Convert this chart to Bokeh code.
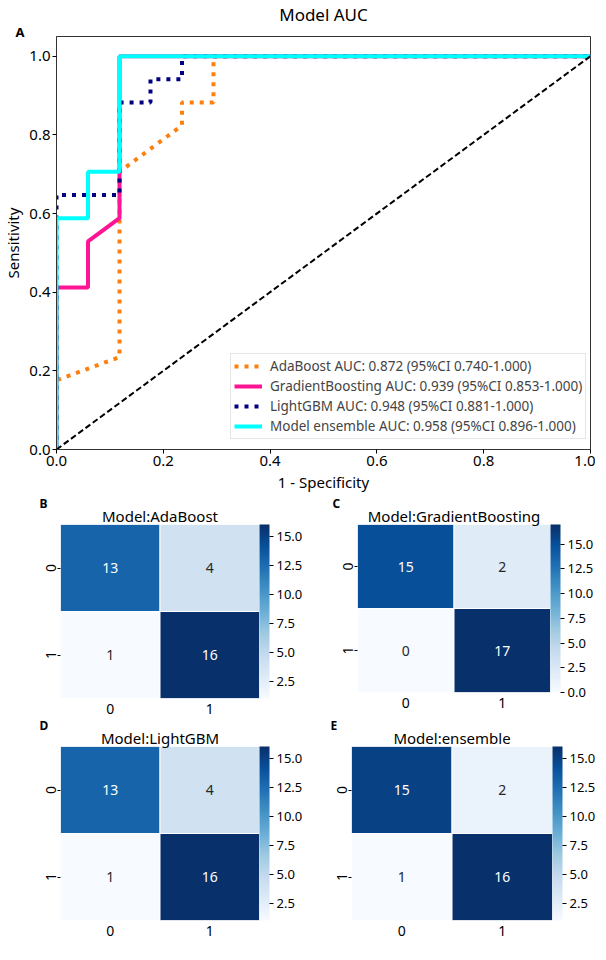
import numpy as np
from bokeh.plotting import figure
from bokeh.models import (Range1d, FixedTicker, Legend, LegendItem, ColorBar, Title,
                          LinearColorMapper, ColumnDataSource, PrintfTickFormatter)
from bokeh.layouts import column, row
from bokeh.embed import file_html
from bokeh.resources import INLINE
from bokeh.core.properties import value

FONT = "Noto Sans"

# ---------------- data ----------------
ada_fpr = [0.0, 0.0, 0.118, 0.118, 0.235, 0.235, 0.294, 0.294, 1.0]
ada_tpr = [0.0, 0.176, 0.235, 0.706, 0.824, 0.882, 0.882, 1.0, 1.0]
gb_fpr = [0.0, 0.0, 0.059, 0.059, 0.118, 0.118, 1.0]
gb_tpr = [0.0, 0.412, 0.412, 0.529, 0.588, 1.0, 1.0]
lgbm_fpr = [0.0, 0.0, 0.118, 0.118, 0.176, 0.176, 0.235, 0.235, 1.0]
lgbm_tpr = [0.0, 0.647, 0.647, 0.882, 0.882, 0.941, 0.941, 1.0, 1.0]
ens_fpr = [0.0, 0.0, 0.059, 0.059, 0.118, 0.118, 1.0]
ens_tpr = [0.0, 0.588, 0.588, 0.706, 0.706, 1.0, 1.0]
chance = [0.0, 1.0]

legend_labels = [
    "AdaBoost AUC: 0.872 (95%CI 0.740-1.000)",
    "GradientBoosting AUC: 0.939 (95%CI 0.853-1.000)",
    "LightGBM AUC: 0.948 (95%CI 0.881-1.000)",
    "Model ensemble AUC: 0.958 (95%CI 0.896-1.000)",
]
roc_ticks = [0.0, 0.2, 0.4, 0.6, 0.8, 1.0]

cm_ada = [[13, 4], [1, 16]]
cm_gb = [[15, 2], [0, 17]]
cm_lgbm = [[13, 4], [1, 16]]
cm_ens = [[15, 2], [1, 16]]
cm_titles = ["Model:AdaBoost", "Model:GradientBoosting", "Model:LightGBM", "Model:ensemble"]
panel_letters = ["B", "C", "D", "E"]
class_labels = ["0", "1"]
cbar_ticks_1_16 = [2.5, 5.0, 7.5, 10.0, 12.5, 15.0]
cbar_ticks_0_17 = [0.0, 2.5, 5.0, 7.5, 10.0, 12.5, 15.0]

# matplotlib "Blues" built from its 9 anchor colours
blues9 = ["#f7fbff", "#deebf7", "#c6dbef", "#9ecae1", "#6baed6",
          "#4292c6", "#2171b5", "#08519c", "#08306b"]


def build_palette(anchors, n=256):
    rgb = np.array([[int(c[i:i + 2], 16) for i in (1, 3, 5)] for c in anchors], float)
    pos = np.linspace(0, 1, len(anchors))
    t = np.linspace(0, 1, n)
    out = []
    for k in range(n):
        r, g, b = (np.interp(t[k], pos, rgb[:, j]) for j in range(3))
        out.append("#%02x%02x%02x" % (int(round(r)), int(round(g)), int(round(b))))
    return out


BLUES = build_palette(blues9)


def make_title(text, size, bold, align, offset, standoff):
    kw = dict(text=text, align=align, offset=offset, text_font=FONT, text_font_size=size,
              text_font_style="bold" if bold else "normal", text_color="black")
    try:
        return Title(standoff=standoff, **kw)
    except Exception:
        return Title(**kw)


# ---------------- ROC figure ----------------
ROC_FW, ROC_FH = 534, 413
p = figure(frame_width=ROC_FW, frame_height=ROC_FH, x_range=Range1d(0, 1), y_range=Range1d(0, 1.05),
           output_backend="svg", toolbar_location=None,
           min_border_left=47, min_border_right=5, min_border_top=10, min_border_bottom=30)
p.add_layout(make_title("A", "13px", True, "left", -41, -9), "above")
p.add_layout(make_title("Model AUC", "17px", False, "center", 0, 0), "above")
p.grid.visible = False
p.outline_line_color = "#333333"
for ax in (p.xaxis[0], p.yaxis[0]):
    ax.ticker = FixedTicker(ticks=roc_ticks)
    ax.formatter = PrintfTickFormatter(format="%.1f")
    ax.major_label_text_font = FONT
    ax.major_label_text_font_size = "15px"
    ax.major_label_text_color = "black"
    ax.axis_label_text_font = FONT
    ax.axis_label_text_font_size = "15px"
    ax.axis_label_text_font_style = "normal"
    ax.axis_label_text_color = "black"
    ax.major_tick_in = 0
    ax.major_tick_out = 4
    ax.minor_tick_line_color = None
    ax.axis_line_color = "#333333"
    ax.major_label_standoff = 2
p.xaxis.axis_label = "1 - Specificity"
p.yaxis.axis_label = "Sensitivity"
p.xaxis.axis_label_standoff = 3
p.yaxis.axis_label_standoff = 3

r_ada = p.line(ada_fpr, ada_tpr, line_color="#ff7f0e", line_width=4, line_dash="4 6")
r_gb = p.line(gb_fpr, gb_tpr, line_color="#ff1493", line_width=4)
r_lgbm = p.line(lgbm_fpr, lgbm_tpr, line_color="#000080", line_width=4, line_dash="4 6")
r_ens = p.line(ens_fpr, ens_tpr, line_color="#00ffff", line_width=4)
p.line(chance, chance, line_color="black", line_width=2, line_dash="6 3")

legend = Legend(items=[LegendItem(label=lab, renderers=[r]) for lab, r in
                       zip(legend_labels, [r_ada, r_gb, r_lgbm, r_ens])],
                location=(174, 10))
legend.label_text_font = FONT
legend.label_text_font_size = "13.5px"
legend.border_line_color = "#cccccc"
legend.glyph_width = 28
legend.glyph_height = 16
legend.label_standoff = 8
legend.spacing = 2
legend.padding = 3
legend.label_height = 16
legend.background_fill_alpha = 0.85
p.add_layout(legend)


# ---------------- confusion matrices ----------------
def heat(cm, title, letter, ticks, fw, fh, bl, bt, letter_off):
    vals = [v for rr in cm for v in rr]
    vmin, vmax = min(vals), max(vals)
    mapper = LinearColorMapper(palette=BLUES, low=vmin, high=vmax)
    xs, ys = [], []
    for i in range(2):
        for j in range(2):
            xs.append(j + 0.5)
            ys.append(i + 0.5)
    mid = (vmin + vmax) / 2
    src = ColumnDataSource(dict(x=xs, y=ys, v=vals, txt=[str(v) for v in vals],
                                tc=["white" if v > mid else "#262626" for v in vals]))
    f = figure(frame_width=fw, frame_height=fh, x_range=Range1d(0, 2), y_range=Range1d(2, 0),
               output_backend="svg", toolbar_location=None,
               min_border_left=bl, min_border_right=5, min_border_top=bt, min_border_bottom=10)
    f.rect("x", "y", 1, 1, source=src, fill_color={"field": "v", "transform": mapper},
           line_color="white", line_width=1)
    f.text("x", "y", text="txt", text_color="tc", source=src, text_align="center",
           text_baseline="middle", text_font=value(FONT), text_font_size=value("14px"))
    f.add_layout(make_title(title, "15px", False, "center", 0, -2), "above")
    f.add_layout(make_title(letter, "12px", True, "left", letter_off, -14), "above")
    f.grid.visible = False
    f.outline_line_color = None
    for ax in (f.xaxis[0], f.yaxis[0]):
        ax.ticker = FixedTicker(ticks=[0.5, 1.5])
        ax.major_label_overrides = {0.5: class_labels[0], 1.5: class_labels[1]}
        ax.axis_line_color = None
        ax.major_tick_in = 0
        ax.major_tick_out = 3
        ax.minor_tick_line_color = None
        ax.major_label_text_font = FONT
        ax.major_label_text_font_size = "14px"
        ax.major_label_text_color = "black"
        ax.major_label_standoff = 2
    f.yaxis.major_label_orientation = "vertical"
    f.xaxis.major_tick_line_color = None
    cb = ColorBar(color_mapper=mapper, ticker=FixedTicker(ticks=ticks),
                  formatter=PrintfTickFormatter(format="%.1f"), width=10,
                  padding=0, margin=12, major_tick_out=4, major_tick_in=0,
                  major_tick_line_color="black", bar_line_color=None,
                  major_label_text_font=FONT, major_label_text_font_size="13px",
                  major_label_text_color="black",
                  label_standoff=3, background_fill_color=None)
    f.add_layout(cb, "right")
    return f


fB = heat(cm_ada, cm_titles[0], panel_letters[0], cbar_ticks_1_16, 199, 174, 60, 30, -21)
fC = heat(cm_gb, cm_titles[1], panel_letters[1], cbar_ticks_0_17, 193, 168, 52, 30, -25)
fD = heat(cm_lgbm, cm_titles[2], panel_letters[2], cbar_ticks_1_16, 199, 174, 60, 30, -21)
fE = heat(cm_ens, cm_titles[3], panel_letters[3], cbar_ticks_1_16, 201, 174, 46, 30, -21)

layout = column(p, row(fB, fC), row(fD, fE))
open("out.html", "w").write(file_html(layout, INLINE))
